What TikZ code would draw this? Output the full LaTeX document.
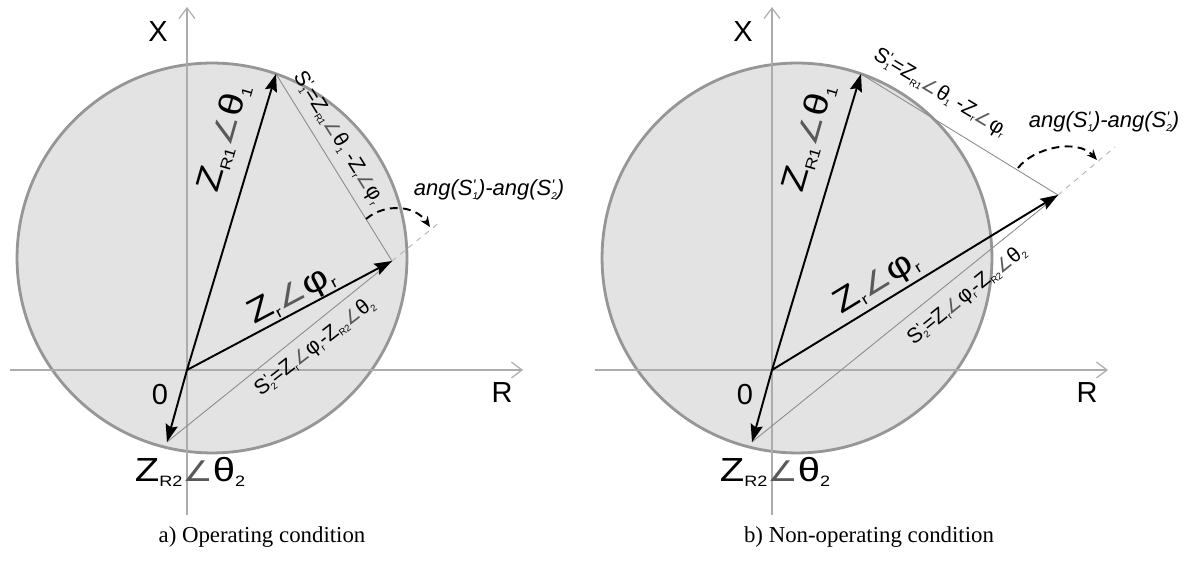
\documentclass[tikz,border=0pt]{standalone}
\usepackage{fontspec}
\setmainfont{Liberation Serif}
\newfontfamily\labfont{Liberation Sans}
\newfontfamily\anglefont{DejaVu Sans}
\usetikzlibrary{arrows.meta}

% small helpers for the phasor labels
\newcommand{\lo}[1]{\raisebox{-0.3ex}{\scalebox{0.45}{#1}}}
\newcommand{\angl}{\scalebox{0.85}{\color{black!65}\anglefont ∠}}
\newcommand{\Sp}[1]{S\rlap{\raisebox{0.45ex}{\scalebox{0.7}{'}}}\lo{#1}}
\newcommand{\wide}[1]{\scalebox{1.2}[1]{#1}}

\tikzset{
  axis/.style={draw=gray!65, line width=0.7pt, -{Straight Barb[length=6pt,width=9pt]}},
  vec/.style={line width=1.1pt, -{Stealth[length=10pt,width=7pt,inset=1.5pt]}},
  chord/.style={draw=gray!90, line width=0.5pt},
  ext/.style={draw=gray!60, dashed, line width=0.5pt},
  circ/.style={fill=gray!22, draw=gray!82, line width=1.6pt},
  arcarrow/.style={line width=1.1pt, dash pattern=on 4.5pt off 3pt, -{Stealth[length=6pt,width=5pt]}},
  axlab/.style={font=\labfont\fontsize{16.5}{18}\selectfont},
  zlab/.style={font=\labfont\fontsize{19}{21}\selectfont},
  slab/.style={font=\labfont\fontsize{12}{14}\selectfont},
  alab/.style={font=\labfont\itshape\fontsize{12.5}{14}\selectfont},
  caption/.style={font=\fontsize{13}{15}\selectfont}
}

\begin{document}
\begin{tikzpicture}[x=0.02cm,y=-0.02cm]
    \useasboundingbox (0,0) rectangle (1193,563);

    % a) operating condition
    \begin{scope}
      \draw[circ] (212,258) circle[radius=3.9cm];
      \coordinate (O) at (187,370);
      \coordinate (xs) at (10,370);  \coordinate (xe) at (523,370);
      \coordinate (ys) at (187,515); \coordinate (ye) at (187,7);
      \draw[axis] (xs) -- (xe);
      \draw[axis] (ys) -- (ye);
      \node[axlab] (Xa) at (158,32) {X};
      \node[axlab] (Ra) at (502,393) {R};
      \node[axlab] (Oa) at (160,395) {0};

      % phasor tips
      \coordinate (A) at (276,74);   % Z_R1
      \coordinate (B) at (167,442);  % Z_R2
      \coordinate (C) at (392,261);  % Z_r
      \coordinate (E) at (440,222);  % end of dashed extension
      \draw[chord] (A) -- (C);
      \draw[chord] (B) -- (C);
      \draw[ext] (C) -- (E);
      \draw[vec] (O) -- (A);
      \draw[vec] (O) -- (B);
      \draw[vec] (O) -- (C);
      \draw[arcarrow] (366,219) .. controls (385,203) and (415,205) .. (430,227);

      \node[zlab, rotate=74] (za1) at (224,138) {\wide{Z\lo{R1}\angl θ\lo{1}}};
      \node[zlab, rotate=28] (zar) at (292,296) {\wide{Z\lo{r}\angl φ\lo{r}}};
      \node[zlab] (za2) at (190,472) {\wide{Z\lo{R2}\angl θ\lo{2}}};
      \node[slab, rotate=-58] (sa1) at (338,138) {\Sp{1}=Z\lo{R1}\angl θ\lo{1} -Z\lo{r}\angl φ\lo{r}};
      \node[slab, rotate=38] (sa2) at (315,347) {\Sp{2}=Z\lo{r}\angl φ\lo{r}-Z\lo{R2}\angl θ\lo{2}};
      \node[alab] (anga) at (489,190) {ang(\Sp{1})-ang(\Sp{2})};
      \node[caption] (capa) at (262,537) {a) Operating condition};
    \end{scope}

    % b) non-operating condition
    \begin{scope}[shift={(585,0)}]
      \draw[circ] (212,258) circle[radius=3.9cm];
      \coordinate (O) at (187,370);
      \coordinate (xs) at (10,370);  \coordinate (xe) at (523,370);
      \coordinate (ys) at (187,515); \coordinate (ye) at (187,7);
      \draw[axis] (xs) -- (xe);
      \draw[axis] (ys) -- (ye);
      \node[axlab] (Xb) at (158,32) {X};
      \node[axlab] (Rb) at (502,393) {R};
      \node[axlab] (Ob) at (160,395) {0};

      % phasor tips
      \coordinate (A) at (276,74);
      \coordinate (B) at (167,442);
      \coordinate (C) at (473,195);
      \coordinate (E) at (530,147);
      \draw[chord] (A) -- (C);
      \draw[chord] (B) -- (C);
      \draw[ext] (C) -- (E);
      \draw[vec] (O) -- (A);
      \draw[vec] (O) -- (B);
      \draw[vec] (O) -- (C);
      \draw[arcarrow] (433,168) .. controls (448,148) and (492,138) .. (512,160);

      \node[zlab, rotate=74] (zb1) at (224,138) {\wide{Z\lo{R1}\angl θ\lo{1}}};
      \node[zlab, rotate=31.5] (zbr) at (292,283) {\wide{Z\lo{r}\angl φ\lo{r}}};
      \node[zlab] (zb2) at (190,472) {\wide{Z\lo{R2}\angl θ\lo{2}}};
      \node[slab, rotate=-31] (sb1) at (355,93) {\Sp{1}=Z\lo{R1}\angl θ\lo{1} -Z\lo{r}\angl φ\lo{r}};
      \node[slab, rotate=39] (sb2) at (382,295) {\Sp{2}=Z\lo{r}\angl φ\lo{r}-Z\lo{R2}\angl θ\lo{2}};
      \node[alab] (angb) at (519,122) {ang(\Sp{1})-ang(\Sp{2})};
      \node[caption] (capb) at (284,537) {b) Non-operating condition};
    \end{scope}
\end{tikzpicture}
\end{document}
